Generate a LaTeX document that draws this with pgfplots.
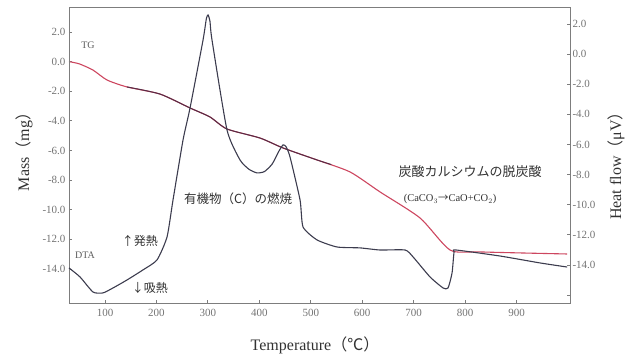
\documentclass[border=0pt]{standalone}
\usepackage{fontspec}
\setmainfont{Liberation Serif}
\newfontfamily\jp{Noto Sans CJK JP}
\usepackage{pgfplots}
\pgfplotsset{compat=1.18}
\definecolor{tgred}{RGB}{205,70,95}
\definecolor{tgdark}{RGB}{85,45,70}
\definecolor{dta}{RGB}{60,60,78}
\definecolor{framec}{RGB}{125,125,125}
\definecolor{ticktext}{RGB}{115,115,115}
\definecolor{labtext}{RGB}{50,50,50}

\pgfplotstableread{
T v
30 0.0
50 -0.15
76.7 -0.57
103.9 -1.24
142.8 -1.71
207 -2.19
265.3 -3.13
304.2 -3.74
337.2 -4.55
401.4 -5.16
446.1 -5.83
512.2 -6.64
576.4 -7.45
634.7 -8.80
712.5 -10.56
770.8 -12.72
829.1 -12.85
998.3 -12.99
}\tgdata

\pgfplotstableread{
T v
142.8 -1.71
207 -2.19
265.3 -3.13
304.2 -3.74
337.2 -4.55
401.4 -5.16
446.1 -5.83
512.2 -6.64
540 -6.95
}\tgdark

\pgfplotstableread{
T v
30 -14.20
51.4 -14.80
76.7 -15.80
96.1 -15.86
115.6 -15.53
142.8 -15.00
173.9 -14.33
201.1 -13.67
220.6 -12.14
232.2 -9.69
251.7 -5.70
265.3 -3.58
290.6 0.94
297 2.35
300.3 2.60
304 2.20
308.0 0.94
337.2 -5.04
362.5 -7.03
380 -7.65
395.6 -7.89
410 -7.80
425 -7.30
438 -6.45
446.1 -6.03
452 -6.15
459.7 -6.83
479.2 -9.69
485.0 -11.48
512.2 -12.34
551.1 -12.81
595.8 -12.87
634.7 -13.01
683.3 -13.01
698.9 -13.47
731.9 -14.80
757.2 -15.53
766.9 -15.53
774.7 -14.53
778.6 -13.14
782.5 -13.01
868.1 -13.41
945.8 -13.87
998.3 -14.14
}\dtadata

\pgfplotsset{
  common/.style={
    at={(0,0)}, anchor=south west, scale only axis,
    width=501pt, height=296pt,
    xmin=30, xmax=1004,
    axis line style={framec, line width=0.9pt},
    tick style={framec, line width=0.8pt},
    major tick length=3pt,
    tick align=inside,
    ticklabel style={color=ticktext, font=\fontsize{11}{12}\selectfont},
    /pgf/number format/assume math mode=true,
  }
}

\begin{document}
\begin{tikzpicture}[x=1pt,y=1pt]
\path[use as bounding box] (-69,-56) rectangle (565,303);
\begin{axis}[common,
  ymin=-16.30, ymax=3.69,
  xtick={100,200,...,900},
  xtick pos=bottom, ytick pos=left,
  ytick={2,0,-2,-4,-6,-8,-10,-12,-14},
  yticklabel style={/pgf/number format/fixed, /pgf/number format/fixed zerofill, /pgf/number format/precision=1},
  xticklabel style={yshift=-3pt},
  ylabel={Mass{\jp （}mg{\jp ）}},
  ylabel style={at={(axis description cs:-0.09,0.524)}, anchor=center, font=\fontsize{16}{18}\selectfont, color=labtext},
  xlabel={Temperature{\jp （℃）}},
  xlabel style={at={(axis description cs:0.491,-0.142)}, anchor=center, font=\fontsize{16}{18}\selectfont, color=labtext},
]
\addplot[tgred, line width=1.1pt, smooth, tension=0.4] table[x=T,y=v] {\tgdata};
\addplot[tgdark, line width=1.0pt, smooth, tension=0.4] table[x=T,y=v] {\tgdark};
\node[color=labtext!80, font=\fontsize{10}{12}\selectfont] at (axis cs:67,1.12) {TG};
\node[color=labtext!80, font=\fontsize{10}{12}\selectfont] at (axis cs:61,-13.06) {DTA};
\node[color=labtext, font=\jp\fontsize{12}{14}\selectfont] at (axis cs:168,-12.11) {↑発熱};
\node[color=labtext, font=\jp\fontsize{12}{14}\selectfont] at (axis cs:187,-15.29) {↓吸熱};
\node[color=labtext, font=\jp\fontsize{12.5}{14}\selectfont] at (axis cs:358.6,-9.28) {有機物（C）の燃焼};
\node[color=labtext, font=\jp\fontsize{13}{15}\selectfont] at (axis cs:809.7,-7.45) {炭酸カルシウムの脱炭酸};
\node[color=labtext, font=\fontsize{10.5}{12}\selectfont] at (axis cs:770.8,-9.28) {(CaCO$_3${\jp →}CaO+CO$_2$)};
\end{axis}
\begin{axis}[common,
  ymin=-16.53, ymax=3.13,
  xtick=\empty,
  ytick pos=right,
  ytick={2,0,-2,-4,-6,-8,-10,-12,-14,-16},
  yticklabels={2.0,0.0,-2.0,-4.0,-6.0,-8.0,-10.0,-12.0,-14.0,{}},
  yticklabel style={xshift=-1pt},
  clip=false,
]
\addplot[dta, line width=1.1pt, smooth, tension=0.35] table[x=T,y=v] {\dtadata};
\node[rotate=90, anchor=center, font=\fontsize{16}{18}\selectfont, color=labtext] at (rel axis cs:1.092,0.476) {Heat flow{\jp （}μV{\jp ）}};
\end{axis}
\end{tikzpicture}
\end{document}
